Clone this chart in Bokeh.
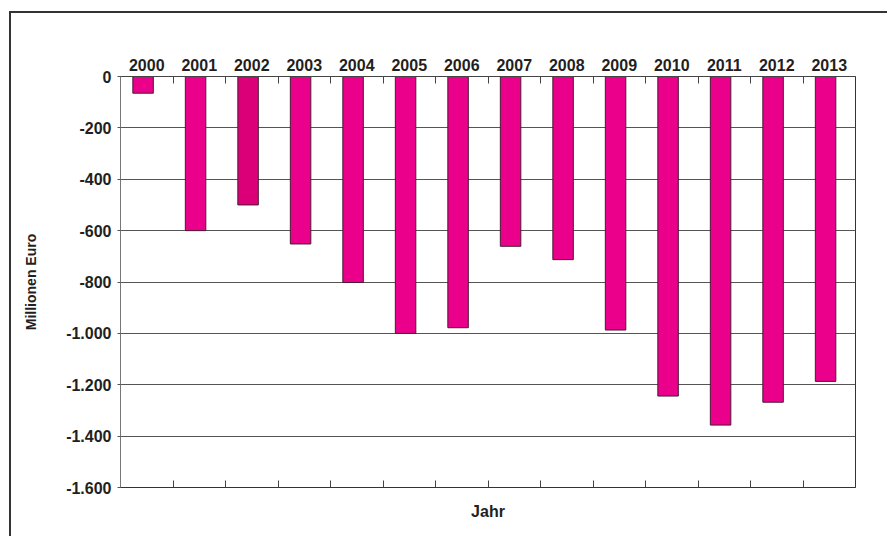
from bokeh.plotting import figure
from bokeh.models import ColumnDataSource, LinearAxis, FixedTicker, Range1d
from bokeh.layouts import column
from bokeh.embed import file_html
from bokeh.resources import INLINE

# ---- data ----
years = ["2000", "2001", "2002", "2003", "2004", "2005", "2006",
         "2007", "2008", "2009", "2010", "2011", "2012", "2013"]
values = [-65, -600, -500, -652, -802, -1000, -978,
          -661, -713, -987, -1244, -1357, -1268, -1187]
bar_colors = ["#EB008B", "#EB008B", "#DC0078", "#EB008B", "#EB008B", "#EB008B", "#EB008B",
              "#EB008B", "#EB008B", "#EB008B", "#EB008B", "#EB008B", "#EB008B", "#EB008B"]
y_ticks = [0, -200, -400, -600, -800, -1000, -1200, -1400, -1600]
y_tick_labels = ["0", "-200", "-400", "-600", "-800", "-1.000", "-1.200", "-1.400", "-1.600"]
y_title = "Millionen Euro"
x_title = "Jahr"

n = len(years)
centers = [i + 0.5 for i in range(n)]
bar_x = [c - 0.07 for c in centers]
bounds = [i for i in range(1, n)]

src = ColumnDataSource(dict(x=bar_x, top=[0] * n, bottom=values, color=bar_colors))

FONT = "Liberation Sans"
TXT = "#231f20"

# outer frame: 2px line at left/top starting at (9, 11); figure sits just inside it
OFF_X, OFF_Y = 11, 13
W = 878
H = 525

p = figure(width=W, height=H, output_backend="svg", toolbar_location=None,
           x_range=Range1d(0, n), y_range=Range1d(-1600, 0),
           x_axis_location=None, y_axis_location=None,
           min_border_left=120 - OFF_X, min_border_right=W - (855 - OFF_X),
           min_border_top=76 - OFF_Y, min_border_bottom=H - (487 - OFF_Y))
p.outline_line_color = "#333333"
p.outline_line_width = 1
p.background_fill_color = "white"
p.border_fill_color = "white"
p.xgrid.visible = False

p.vbar(x="x", width=0.39, top="top", bottom="bottom", source=src,
       fill_color="color", line_color="#4a1a35", line_width=1)

# left axis
yax = LinearAxis(ticker=FixedTicker(ticks=y_ticks))
yax.major_label_overrides = {t: l for t, l in zip(y_ticks, y_tick_labels)}
yax.axis_label = y_title
yax.axis_label_text_font = FONT
yax.axis_label_text_font_style = "bold"
yax.axis_label_text_font_size = "14px"
yax.axis_label_text_color = TXT
yax.axis_label_standoff = 24
yax.major_label_text_font = FONT
yax.major_label_text_font_style = "bold"
yax.major_label_text_font_size = "16px"
yax.major_label_text_color = TXT
yax.major_label_standoff = 6
yax.major_tick_in = 0
yax.major_tick_out = 3
yax.major_tick_line_color = "#555555"
yax.minor_tick_line_color = None
yax.axis_line_color = "#777777"
p.add_layout(yax, "left")

p.ygrid.ticker = FixedTicker(ticks=y_ticks)
p.ygrid.grid_line_color = "#555555"
p.ygrid.grid_line_width = 1

# top axis with year labels and boundary ticks
tax = LinearAxis(ticker=FixedTicker(ticks=centers, minor_ticks=bounds))
tax.major_label_overrides = {c: y for c, y in zip(centers, years)}
tax.major_label_text_font = FONT
tax.major_label_text_font_style = "bold"
tax.major_label_text_font_size = "16px"
tax.major_label_text_color = TXT
tax.major_label_standoff = 0
tax.major_tick_line_color = None
tax.minor_tick_in = 7
tax.minor_tick_out = 0
tax.minor_tick_line_color = "#444444"
tax.axis_line_color = "#444444"
p.add_layout(tax, "above")

# bottom axis with boundary ticks and title
bax = LinearAxis(ticker=FixedTicker(ticks=[], minor_ticks=bounds))
bax.major_label_text_font_size = "0px"
bax.major_tick_line_color = None
bax.minor_tick_in = 7
bax.minor_tick_out = 0
bax.minor_tick_line_color = "#444444"
bax.axis_line_color = "#333333"
bax.axis_label = x_title
bax.axis_label_text_font = FONT
bax.axis_label_text_font_style = "bold"
bax.axis_label_text_font_size = "16px"
bax.axis_label_text_color = TXT
bax.axis_label_standoff = 15
p.add_layout(bax, "below")

page = column(p, styles={"margin-left": f"{OFF_X}px", "margin-top": f"{OFF_Y}px",
                         "box-shadow": "-2px -2px 0px 0px #333333",
                         "background-color": "white"})

open("out.html", "w").write(file_html(page, INLINE))
